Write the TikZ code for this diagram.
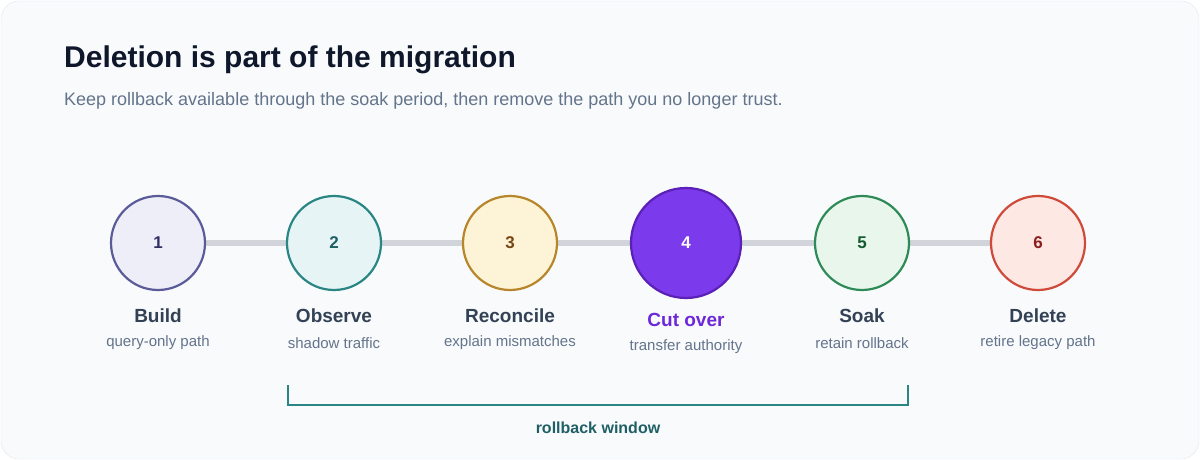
\documentclass[tikz,border=0pt]{standalone}
\usepackage{fontspec}
\setmainfont{Liberation Sans}
\usetikzlibrary{positioning}
\definecolor{bgc}{HTML}{F8FAFC}
\definecolor{bdc}{HTML}{E2E8F0}
\definecolor{titlec}{HTML}{0F172A}
\definecolor{subc}{HTML}{64748B}
\definecolor{linec}{HTML}{D1D5DB}
\definecolor{labc}{HTML}{334155}
\definecolor{tealc}{HTML}{2A8585}
\definecolor{tealt}{HTML}{1F5F66}
\definecolor{fillA}{HTML}{EEEEF8}\definecolor{drawA}{HTML}{5B5B9A}\definecolor{textA}{HTML}{312E64}
\definecolor{fillB}{HTML}{E6F4F5}
\definecolor{fillC}{HTML}{FDF3D6}\definecolor{drawC}{HTML}{B8862A}\definecolor{textC}{HTML}{784614}
\definecolor{fillD}{HTML}{7C3AED}\definecolor{drawD}{HTML}{5B21B6}\definecolor{textD}{HTML}{6D28D9}
\definecolor{fillE}{HTML}{E8F6EC}\definecolor{drawE}{HTML}{2E8B57}\definecolor{textE}{HTML}{165A32}
\definecolor{fillF}{HTML}{FDE8E4}\definecolor{drawF}{HTML}{D04A3A}\definecolor{textF}{HTML}{8C1E1E}
\tikzset{
  stage/.style={circle, minimum size=94pt, line width=2.2pt, font=\fontsize{17}{19}\selectfont\bfseries, inner sep=0pt},
  stagelabel/.style={font=\fontsize{19}{22}\selectfont\bfseries, text=labc},
  stagenote/.style={font=\fontsize{15}{18}\selectfont, text=subc}
}
\begin{document}
\begin{tikzpicture}[x=1pt,y=-1pt]
  \useasboundingbox (0,0) rectangle (1200,460);
  \draw[bdc, fill=bgc, rounded corners=18pt] (1,1) rectangle (1199,459);
  \node[anchor=west, font=\fontsize{30}{34}\selectfont\bfseries, text=titlec, inner sep=0pt] (title) at (64,60) {Deletion is part of the migration};
  \node[anchor=west, font=\fontsize{18}{21}\selectfont, text=subc, inner sep=0pt] (subtitle) at (64,101) {Keep rollback available through the soak period, then remove the path you no longer trust.};
  % track
  \coordinate (tl) at (158,243);
  \coordinate (tr) at (1038,243);
  \draw[linec, line width=6pt] (tl) -- (tr);
  % stages
  \node[stage, fill=fillA, draw=drawA, text=textA] (s1) at (158,243) {1};
  \node[stage, fill=fillB, draw=tealc, text=tealt] (s2) at (334,243) {2};
  \node[stage, fill=fillC, draw=drawC, text=textC] (s3) at (510,243) {3};
  \node[stage, minimum size=110pt, fill=fillD, draw=drawD, text=white] (s4) at (686,243) {4};
  \node[stage, fill=fillE, draw=drawE, text=textE] (s5) at (862,243) {5};
  \node[stage, fill=fillF, draw=drawF, text=textF] (s6) at (1038,243) {6};
  % labels
  \node[stagelabel] (l1) at (158,316) {Build};
  \node[stagenote] (n1) at (158,343) {query-only path};
  \node[stagelabel] (l2) at (334,316) {Observe};
  \node[stagenote] (n2) at (334,343) {shadow traffic};
  \node[stagelabel] (l3) at (510,316) {Reconcile};
  \node[stagenote] (n3) at (510,343) {explain mismatches};
  \node[stagelabel, text=textD] (l4) at (686,320) {Cut over};
  \node[stagenote] (n4) at (686,347) {transfer authority};
  \node[stagelabel] (l5) at (862,316) {Soak};
  \node[stagenote] (n5) at (862,343) {retain rollback};
  \node[stagelabel] (l6) at (1038,316) {Delete};
  \node[stagenote] (n6) at (1038,343) {retire legacy path};
  % rollback window
  \coordinate (wa) at (288,385);
  \coordinate (wb) at (908,385);
  \draw[tealc, line width=2.2pt] (wa) -- ++(0,20) -| (wb);
  \node[font=\fontsize{16}{18}\selectfont\bfseries, text=tealt] (win) at (598,428) {rollback window};
\end{tikzpicture}
\end{document}
